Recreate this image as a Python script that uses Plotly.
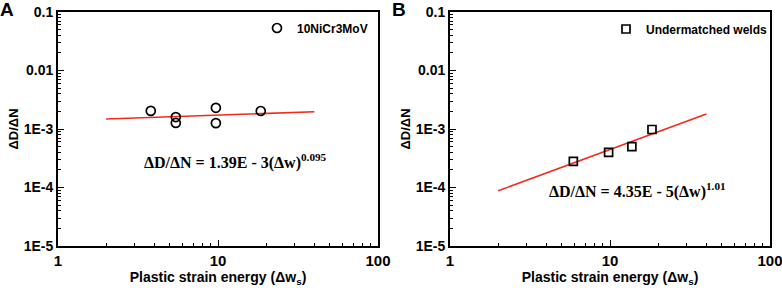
import plotly.graph_objects as go

# Panel A data (10NiCr3MoV)
a_x = [3.8, 5.45, 5.45, 9.7, 9.7, 18.5]
a_y = [2.04e-3, 1.6e-3, 1.27e-3, 2.3e-3, 1.26e-3, 2.03e-3]
a_coef, a_exp = 1.39e-3, 0.095

# Panel B data (Undermatched welds)
b_x = [5.9, 9.8, 13.7, 18.3]
b_y = [2.8e-4, 4.0e-4, 5.0e-4, 9.8e-4]
b_coef, b_exp = 4.35e-5, 1.01

fit_x = [2, 40]

x_tickvals = [1, 10, 100]
x_ticktext = ["1", "10", "100"]
y_tickvals = [1e-1, 1e-2, 1e-3, 1e-4, 1e-5]
y_ticktext = ["0.1", "0.01", "1E-3", "1E-4", "1E-5"]

x_minor = [m * 10**d for d in range(0, 2) for m in range(2, 10)]
y_minor = [m * 10.0**d for d in range(-5, -1) for m in range(2, 10)]

RED = "#f22a1a"
fnt = "Liberation Sans, Arial, sans-serif"
serif = "Liberation Serif, Times New Roman, serif"

fig = go.Figure()

fig.add_trace(go.Scatter(x=fit_x, y=[a_coef * v**a_exp for v in fit_x], mode="lines",
                         line=dict(color=RED, width=1.6), showlegend=False,
                         xaxis="x", yaxis="y"))
fig.add_trace(go.Scatter(x=a_x, y=a_y, mode="markers", name="10NiCr3MoV",
                         marker=dict(symbol="circle-open", size=9, color="black",
                                     line=dict(width=1.7, color="black")),
                         showlegend=True, legend="legend", xaxis="x", yaxis="y"))
fig.add_trace(go.Scatter(x=fit_x, y=[b_coef * v**b_exp for v in fit_x], mode="lines",
                         line=dict(color=RED, width=1.6), showlegend=False,
                         xaxis="x2", yaxis="y2"))
fig.add_trace(go.Scatter(x=b_x, y=b_y, mode="markers", name="Undermatched welds",
                         marker=dict(symbol="square-open", size=8, color="black",
                                     line=dict(width=1.7, color="black")),
                         showlegend=True, legend="legend2", xaxis="x2", yaxis="y2"))

ydom = [1 - 246 / 290, 1 - 12 / 290]

def xax(dom):
    return dict(type="log", range=[0, 2], domain=dom, showgrid=False, zeroline=False,
                automargin=False, ticklabeloverflow="allow",
                showline=True, linecolor="black", linewidth=1.8, mirror=True,
                ticks="inside", ticklen=6, tickwidth=1.2, tickcolor="black",
                tickvals=x_tickvals, ticktext=x_ticktext,
                tickfont=dict(family=fnt, size=15, color="black", weight="bold"),
                minor=dict(tickvals=x_minor, ticks="inside", ticklen=3, tickwidth=1, tickcolor="black"),
                title=dict(text="Plastic strain energy (Δw<sub>s</sub>)",
                           font=dict(family=fnt, size=14, color="black", weight="bold"), standoff=0))

def yax(anchor):
    return dict(type="log", range=[-5, -1], domain=ydom, anchor=anchor, showgrid=False, zeroline=False,
                automargin=False, ticklabeloverflow="allow",
                showline=True, linecolor="black", linewidth=1.8, mirror=True,
                ticks="inside", ticklen=6, tickwidth=1.2, tickcolor="black",
                tickvals=y_tickvals, ticktext=y_ticktext,
                tickfont=dict(family=fnt, size=14, color="black", weight="bold"),
                minor=dict(tickvals=y_minor, ticks="inside", ticklen=3, tickwidth=1, tickcolor="black"),
                title=dict(text="ΔD/ΔN", font=dict(family=fnt, size=13, color="black", weight="bold"),
                           standoff=2))

legfont = dict(family=fnt, size=12, color="black", weight="bold")

fig.update_layout(
    width=782, height=290,
    margin=dict(l=0, r=0, t=0, b=0, autoexpand=False),
    paper_bgcolor="white", plot_bgcolor="white",
    xaxis=dict(**xax([58 / 782, 378 / 782]), anchor="y"),
    yaxis=yax("x"),
    xaxis2=dict(**xax([450 / 782, 770 / 782]), anchor="y2"),
    yaxis2=yax("x2"),
    legend=dict(x=257 / 782, y=1 - 28 / 290, xanchor="left", yanchor="middle",
                bgcolor="rgba(0,0,0,0)", font=legfont, itemwidth=30),
    legend2=dict(x=606 / 782, y=1 - 29 / 290, xanchor="left", yanchor="middle",
                 bgcolor="rgba(0,0,0,0)", font=legfont, itemwidth=30),
)

anns = [
    dict(x=235 / 782, y=1 - 161 / 290, text="ΔD/ΔN = 1.39E - 3(Δw)<sup>0.095</sup>", xanchor="center",
         font=dict(family=serif, size=16, color="black", weight="bold")),
    dict(x=637 / 782, y=1 - 190 / 290, text="ΔD/ΔN = 4.35E - 5(Δw)<sup>1.01</sup>", xanchor="center",
         font=dict(family=serif, size=16, color="black", weight="bold")),
    dict(x=-2 / 782, y=1 - 10 / 290, text="A", xanchor="left",
         font=dict(family=fnt, size=19, color="black", weight="bold")),
    dict(x=390 / 782, y=1 - 10 / 290, text="B", xanchor="left",
         font=dict(family=fnt, size=19, color="black", weight="bold")),
]
for a in anns:
    a.update(xref="paper", yref="paper", showarrow=False, yanchor="middle")
    fig.add_annotation(**a)

fig.write_html("out.html", config={"displayModeBar": False},
               post_script="document.body.style.margin='0';document.body.style.padding='0';")
